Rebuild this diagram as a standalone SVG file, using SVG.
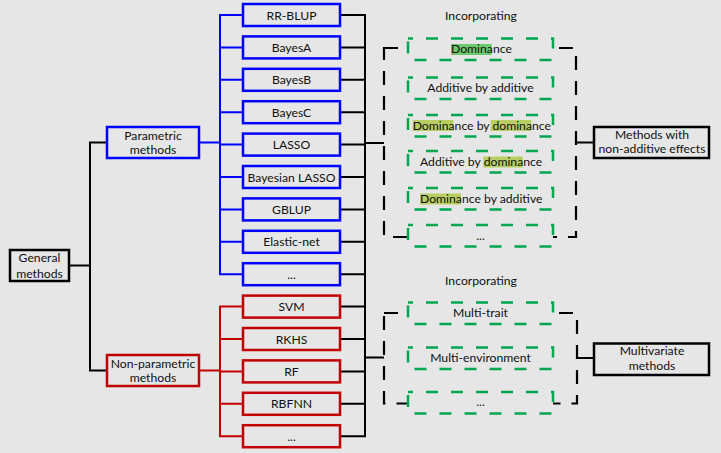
<svg xmlns="http://www.w3.org/2000/svg" width="721" height="453" viewBox="0 0 721 453">
<style>
text{font-family:Lato,"Liberation Sans",sans-serif;font-size:12.2px;fill:#111;text-anchor:middle}
.st{text-anchor:start}
.bx{fill:#e6e6e6;stroke-width:2.5}
.k{stroke:#000}.b{stroke:#0000ff}.r{stroke:#c00000}
.g{fill:#e6e6e6;stroke:#00a650;stroke-width:2.5;stroke-dasharray:12 13;stroke-dashoffset:7}
.bk{fill:none;stroke:#000;stroke-width:2.2;stroke-dasharray:14 11}
.hg{fill:#6cc96c}.hy{fill:#b8cd62}
#conn line,#conn path{fill:none;stroke-width:2}
</style>
<rect x="0" y="0" width="721" height="453" fill="#e6e6e6"/>
<g id="conn">
<g class="k">
<line x1="69" y1="265.5" x2="90" y2="265.5"/>
<path d="M107 142.5H90V370.5H107"/>
<path d="M340 15H365M340 47.4H365M340 79.8H365M340 112.2H365M340 144.6H365M340 177H365M340 209.4H365M340 241.8H365M340 274.2H365M340 306.6H365M340 339H365M340 371.4H365M340 403.8H365M340 436.2H365M365 14V437.2"/>
<path d="M365 143H384M365 357.5H384M576 142.5H594M577 358H594"/>
</g>
<g class="b">
<path d="M199 142.5H220M220 14V275.2M220 15H243M220 47.4H243M220 79.8H243M220 112.2H243M220 144.6H243M220 177H243M220 209.4H243M220 241.8H243M220 274.2H243"/>
</g>
<g class="r">
<path d="M199 370.5H220M220 305.6V437.2M220 306.6H243M220 339H243M220 371.4H243M220 403.8H243M220 436.2H243"/>
</g>
</g>
<g id="general"><rect class="bx k" x="10" y="250" width="59" height="31"/><text x="39.5" y="262">General</text><text x="39.5" y="277.5">methods</text></g>
<g id="parametric"><rect class="bx b" x="107" y="127" width="92" height="31"/><text x="153" y="139.5">Parametric</text><text x="153" y="154">methods</text></g>
<g id="nonparametric"><rect class="bx r" x="107" y="355" width="92" height="31"/><text x="153" y="367.5">Non-parametric</text><text x="153" y="382">methods</text></g>
<g id="rrblup"><rect class="bx b" x="243" y="4" width="97" height="22"/><text x="291.5" y="19.5">RR-BLUP</text></g>
<g id="bayesa"><rect class="bx b" x="243" y="36.4" width="97" height="22"/><text x="291.5" y="51.9">BayesA</text></g>
<g id="bayesb"><rect class="bx b" x="243" y="68.8" width="97" height="22"/><text x="291.5" y="84.3">BayesB</text></g>
<g id="bayesc"><rect class="bx b" x="243" y="101.2" width="97" height="22"/><text x="291.5" y="116.7">BayesC</text></g>
<g id="lasso"><rect class="bx b" x="243" y="133.6" width="97" height="22"/><text x="291.5" y="149.1">LASSO</text></g>
<g id="blasso"><rect class="bx b" x="243" y="166" width="97" height="22"/><text x="291.5" y="181.5">Bayesian LASSO</text></g>
<g id="gblup"><rect class="bx b" x="243" y="198.4" width="97" height="22"/><text x="291.5" y="213.9">GBLUP</text></g>
<g id="elasticnet"><rect class="bx b" x="243" y="230.8" width="97" height="22"/><text x="291.5" y="246.3">Elastic-net</text></g>
<g id="pmore"><rect class="bx b" x="243" y="263.2" width="97" height="22"/><text x="291.5" y="278.7">...</text></g>
<g id="svm"><rect class="bx r" x="243" y="295.6" width="97" height="22"/><text x="291.5" y="311.1">SVM</text></g>
<g id="rkhs"><rect class="bx r" x="243" y="328" width="97" height="22"/><text x="291.5" y="343.5">RKHS</text></g>
<g id="rf"><rect class="bx r" x="243" y="360.4" width="97" height="22"/><text x="291.5" y="375.9">RF</text></g>
<g id="rbfnn"><rect class="bx r" x="243" y="392.8" width="97" height="22"/><text x="291.5" y="408.3">RBFNN</text></g>
<g id="npmore"><rect class="bx r" x="243" y="425.2" width="97" height="22"/><text x="291.5" y="440.7">...</text></g>
<g id="nonadditive-group">
<text x="481" y="19.5">Incorporating</text>
<rect class="bk" x="384" y="48" width="192" height="189"/>
<g id="dominance"><rect class="g" x="408" y="38.5" width="145" height="21.5"/><rect class="hg" x="451" y="44" width="40.7" height="11"/><text class="st" x="451" y="53.2">Domina<tspan>nce</tspan></text></g>
<g id="axa"><rect class="g" x="408" y="77.5" width="145" height="21.5"/><text x="480.5" y="92">Additive by additive</text></g>
<g id="dxd"><rect class="g" x="408" y="115" width="145" height="21.5"/><rect class="hy" x="412.7" y="120" width="40.6" height="11"/><rect class="hy" x="490.7" y="120" width="40.6" height="11"/><text class="st" x="412.7" y="129.5">Dominance by dominance</text></g>
<g id="axd"><rect class="g" x="408" y="151" width="145" height="21.5"/><rect class="hy" x="483.3" y="156.5" width="39.4" height="11"/><text class="st" x="420" y="165.5">Additive by dominance</text></g>
<g id="dxa"><rect class="g" x="408" y="188" width="145" height="21.5"/><rect class="hy" x="420" y="193.5" width="41" height="11"/><text class="st" x="420" y="202.5">Dominance by additive</text></g>
<g id="namore"><rect class="g" x="408" y="225" width="145" height="21.5"/><text x="480.5" y="240">...</text></g>
</g>
<g id="nonadditive"><rect class="bx k" x="594" y="127" width="115" height="31"/><text x="652" y="138.5">Methods with</text><text x="652" y="153">non-additive effects</text></g>
<g id="multivariate-group">
<text x="481" y="285">Incorporating</text>
<rect class="bk" x="384" y="313" width="193" height="90.5"/>
<g id="multitrait"><rect class="g" x="408" y="302.5" width="145" height="21.5"/><text x="480.5" y="316.8">Multi-trait</text></g>
<g id="multienv"><rect class="g" x="408" y="347.5" width="145" height="21.5"/><text x="480.5" y="361.5">Multi-environment</text></g>
<g id="mvmore"><rect class="g" x="408" y="392" width="145" height="21.5"/><text x="480.5" y="406">...</text></g>
</g>
<g id="multivariate"><rect class="bx k" x="594" y="343.5" width="115" height="31.5"/><text x="652" y="355">Multivariate</text><text x="652" y="370">methods</text></g>
</svg>
